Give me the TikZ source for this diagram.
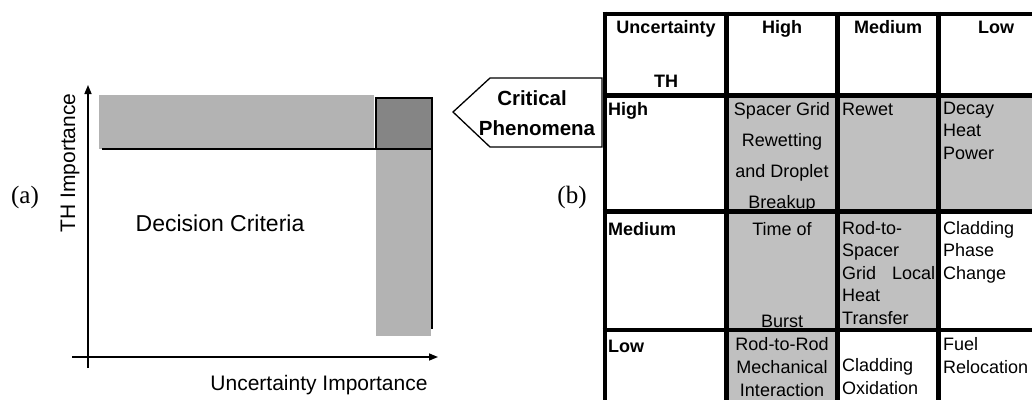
\documentclass[tikz,border=0pt]{standalone}
\usepackage{fontspec}
\setmainfont{Liberation Sans}
\newfontfamily\serifface{Liberation Serif}
\usetikzlibrary{arrows.meta}

\definecolor{barlight}{HTML}{B3B3B3}
\definecolor{bardark}{HTML}{858585}
\definecolor{cellgray}{HTML}{C0C0C0}

\tikzset{
    cell/.style={inner sep=0pt, font=\fontsize{18}{22.5}\selectfont},
    head/.style={inner sep=0pt, font=\fontsize{18}{22.5}\selectfont\bfseries},
    gridline/.style={line width=4.6pt},
    thin/.style={line width=1.3pt},
    axis/.style={line width=1.5pt, -{Triangle[length=9pt,width=7pt]}},
}

\begin{document}
\begin{tikzpicture}[x=1pt, y=-1pt]
    \useasboundingbox (0,0) rectangle (1032,399);

    % (a) decision plane
    \fill [barlight] (99,95) rectangle (374,149);
    \fill [bardark] (376,98) rectangle (432,149);
    \fill [barlight] (376,149) rectangle (431,336);
    \draw [thin] (102,149) -- (432,149);
    \draw [thin] (376,149) -- (376,98) -- (432,98) -- (432,329);

    \coordinate (ybot) at (88,368);
    \coordinate (ytop) at (88,85);
    \coordinate (xleft) at (72,357);
    \coordinate (xright) at (438,357);
    \draw [axis] (ybot) -- (ytop);
    \draw [axis] (xleft) -- (xright);

    \node (tha) at (70,163) [rotate=90, font=\fontsize{21}{25}\selectfont] {TH Importance};
    \node (una) at (319,385) [font=\fontsize{21}{25}\selectfont] {Uncertainty Importance};
    \node (dec) at (220,223) [font=\fontsize{23}{27}\selectfont] {Decision Criteria};
    \node (laba) at (25,197) [font=\serifface\fontsize{25}{29}\selectfont] {(a)};
    \node (labb) at (572,197) [font=\serifface\fontsize{25}{29}\selectfont] {(b)};

    % pointer
    \draw [thin, fill=white] (453,112) -- (490,78) -- (602,78) -- (602,147) -- (490,147) -- cycle;
    \node (crit) at (532,105) [anchor=base, inner sep=0pt, font=\fontsize{20.5}{30}\selectfont\bfseries] {Critical};
    \node (phen) at (537,135) [anchor=base, inner sep=0pt, font=\fontsize{20.5}{30}\selectfont\bfseries] {Phenomena};

    % (b) table
    \begin{scope}
        \clip (590,0) rectangle (1032,399);
        \fill [cellgray] (726.5,95.5) rectangle (1053,211.5);
        \fill [cellgray] (726.5,211.5) rectangle (938.5,330);
        \fill [cellgray] (726.5,330) rectangle (837.5,410);
        \foreach \yy in {14, 95.5, 211.5, 330}
            \draw [gridline] (602.7,\yy) -- (1055.3,\yy);
        \foreach \xx in {605, 726.5, 837.5, 938.5, 1053}
            \draw [gridline] (\xx,11.7) -- (\xx,410);
    \end{scope}

    % header row
    \node (hunc) at (666,33) [head, anchor=base] {Uncertainty};
    \node (hth) at (666,87) [head, anchor=base] {TH};
    \node (hhigh) at (782,33) [head, anchor=base] {High};
    \node (hmed) at (888,33) [head, anchor=base] {Medium};
    \node (hlow) at (996,33) [head, anchor=base] {Low};

    % row labels
    \node (rhigh) at (608,115) [head, anchor=base west] {High};
    \node (rmed) at (608,235) [head, anchor=base west] {Medium};
    \node (rlow) at (608,352) [head, anchor=base west] {Low};

    % High row (multi-line cells sit on their last line)
    \node (spacer) at (782,208) [cell, anchor=base, align=center] {Spacer Grid\\[8.5pt]Rewetting\\[8.5pt]and Droplet\\[8.5pt]Breakup};
    \node (rewet) at (842,115) [cell, anchor=base west] {Rewet};
    \node (decay) at (943,159) [cell, anchor=base west, align=left] {Decay\\Heat\\Power};

    % Medium row
    \node (timeof) at (782,235) [cell, anchor=base] {Time of};
    \node (burst) at (782,327) [cell, anchor=base] {Burst};
    \node (rodsp) at (842,324) [cell, anchor=base west, align=left] {Rod-to-\\Spacer\\\hbox to 93pt{Grid\hfil Local}\\Heat\\Transfer};
    \node (phase) at (943,279) [cell, anchor=base west, align=left] {Cladding\\Phase\\Change};

    % Low row
    \node (rodrod) at (782,396) [cell, anchor=base, align=center] {Rod-to-Rod\\[0.5pt]Mechanical\\[0.5pt]Interaction};
    \node (oxid) at (842,394) [cell, anchor=base west, align=left] {Cladding\\Oxidation};
    \node (fuel) at (943,373) [cell, anchor=base west, align=left] {Fuel\\Relocation};
\end{tikzpicture}
\end{document}
